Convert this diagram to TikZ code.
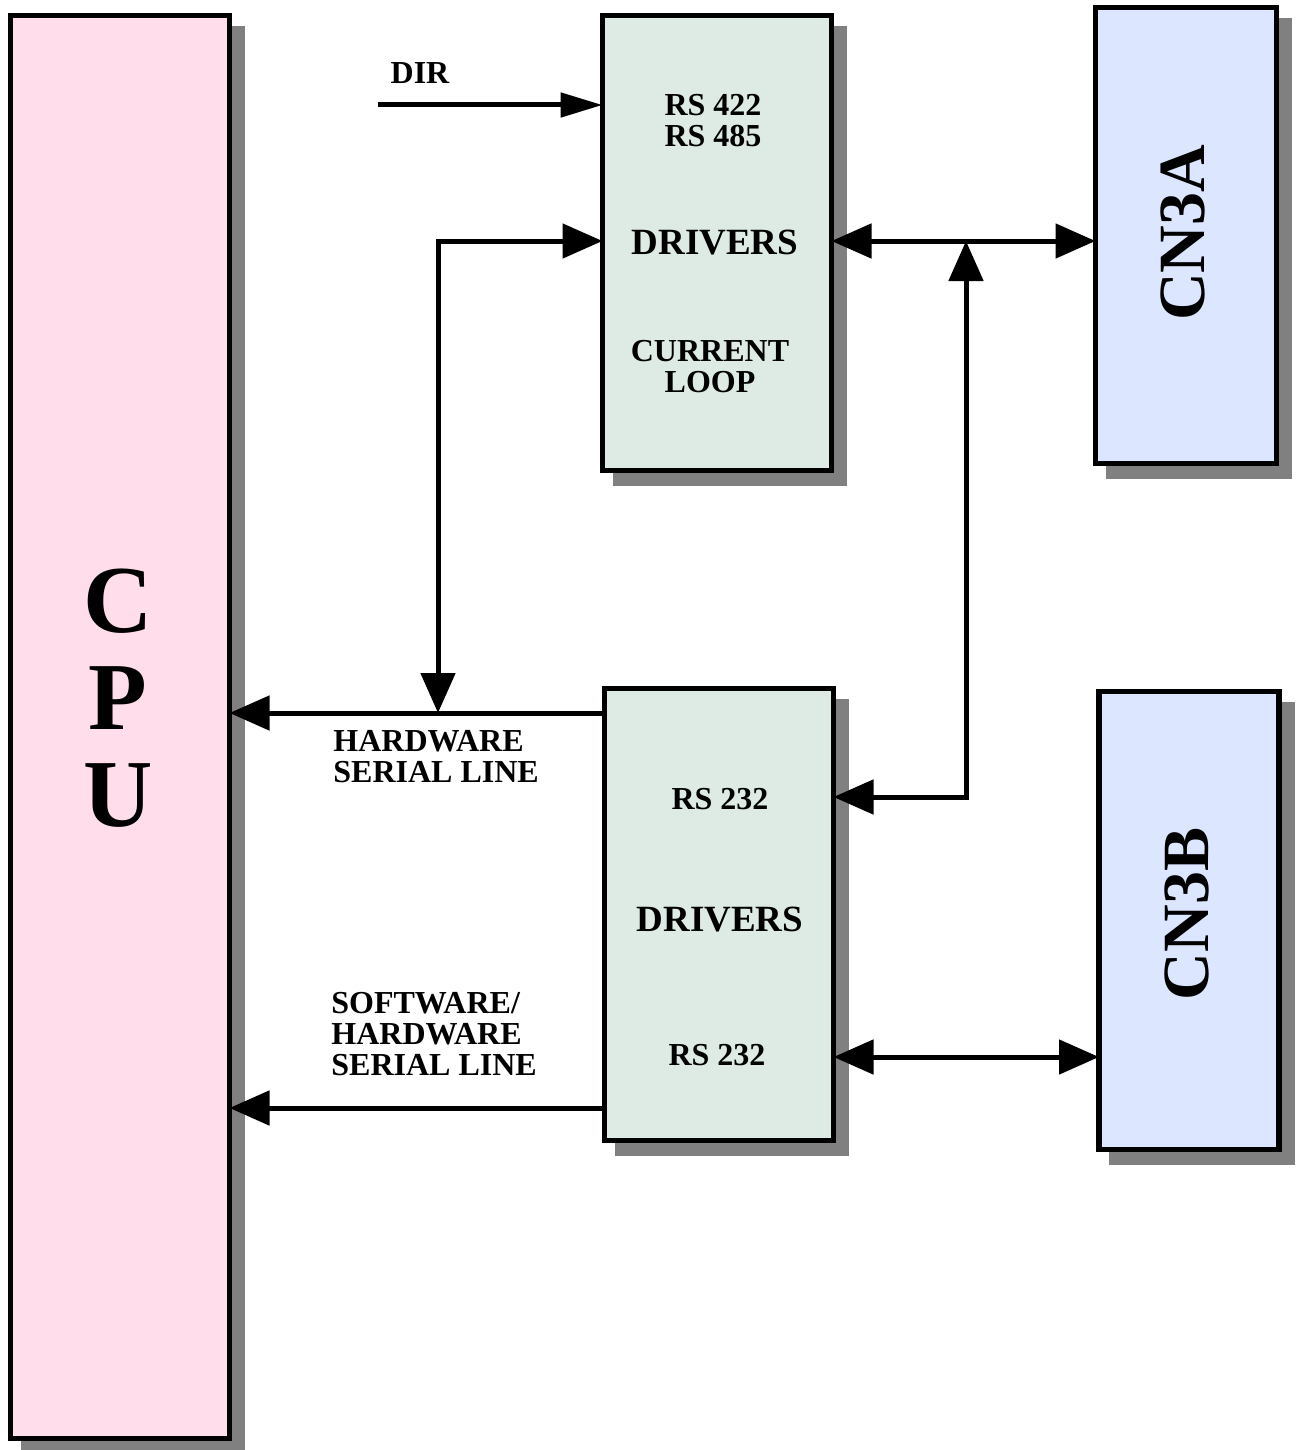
\documentclass[tikz,border=0pt]{standalone}
\usepackage{fontspec}
\setmainfont{Liberation Serif}
\usetikzlibrary{arrows.meta,shadows}
\definecolor{cpupink}{HTML}{FFDDEB}
\definecolor{drvgreen}{HTML}{DEEBE4}
\definecolor{conblue}{HTML}{DDE6FF}
\definecolor{shade}{HTML}{808080}

\begin{document}
\begin{tikzpicture}[x=0.5pt,y=-0.5pt,
  every node/.style={inner sep=0pt,font=\bfseries\fontsize{16}{15.5}\selectfont},
  big/.style={font=\bfseries\fontsize{18.5}{18.5}\selectfont},
  box/.style={draw,line width=2.6pt,outer sep=0pt,drop shadow={shadow xshift=6.5pt,shadow yshift=-6.5pt,
      fill=shade,draw=shade,line width=2.6pt,opacity=1}},
  link/.style={line width=2.5pt,-{Triangle[length=20pt,width=17pt]}},
  dlink/.style={line width=2.5pt,{Triangle[length=20pt,width=17pt]}-{Triangle[length=20pt,width=17pt]}}]
\useasboundingbox (0,0) rectangle (1297,1450);
% blocks
\node[box,fill=cpupink,minimum width=109.5pt,minimum height=711.25pt] (cpu) at (120,727) {};
\node[box,fill=drvgreen,minimum width=114.5pt,minimum height=227.5pt] (drvA) at (717,243) {};
\node[box,fill=drvgreen,minimum width=114.5pt,minimum height=226pt] (drvB) at (719,914.5) {};
\node[box,fill=conblue,minimum width=90.5pt,minimum height=228pt] (cnA) at (1186,235.5) {};
\node[box,fill=conblue,minimum width=90pt,minimum height=229pt] (cnB) at (1189,920.5) {};
% texts
\node[font=\bfseries\fontsize{48}{48.5}\selectfont,align=center] at (118,698) {C\\P\\U};
\node[rotate=90,font=\bfseries\fontsize{33}{33}\selectfont] at (1183,233) {CN3A};
\node[rotate=90,font=\bfseries\fontsize{33}{33}\selectfont] at (1187,914) {CN3B};
\node at (420,73) {DIR};
\node[align=center] at (713,121) {RS 422\\RS 485};
\node[big] at (715,243) {DRIVERS};
\node[align=center] at (710,367) {CURRENT\\LOOP};
\node[anchor=west,align=left] at (333,757) {HARDWARE\\SERIAL LINE};
\node at (720,799) {RS 232};
\node[big] at (720,920) {DRIVERS};
\node at (717,1055) {RS 232};
\node[anchor=west,align=left] at (331,1034) {SOFTWARE/\\HARDWARE\\SERIAL LINE};
% connectors
\coordinate (dirin) at (378,105);
\coordinate (hwj) at (438,713);
\coordinate (tap) at (966,241);
\coordinate (rsb) at (966,797);
\coordinate (swy) at (0,1108);
\coordinate (cnby) at (0,1057);
\draw[link,-{Triangle[length=21pt,width=12pt]}] (dirin) -- (drvA.west |- dirin);
\draw[dlink] (hwj) |- (drvA.west |- tap);
\draw[dlink] (drvA.east |- tap) -- (cnA.west |- tap);
\draw[dlink] (tap) |- (drvB.east |- rsb);
\draw[link] (drvB.west |- hwj) -- (cpu.east |- hwj);
\draw[link] (drvB.west |- swy) -- (cpu.east |- swy);
\draw[dlink] (drvB.east |- cnby) -- (cnB.west |- cnby);
\end{tikzpicture}
\end{document}
